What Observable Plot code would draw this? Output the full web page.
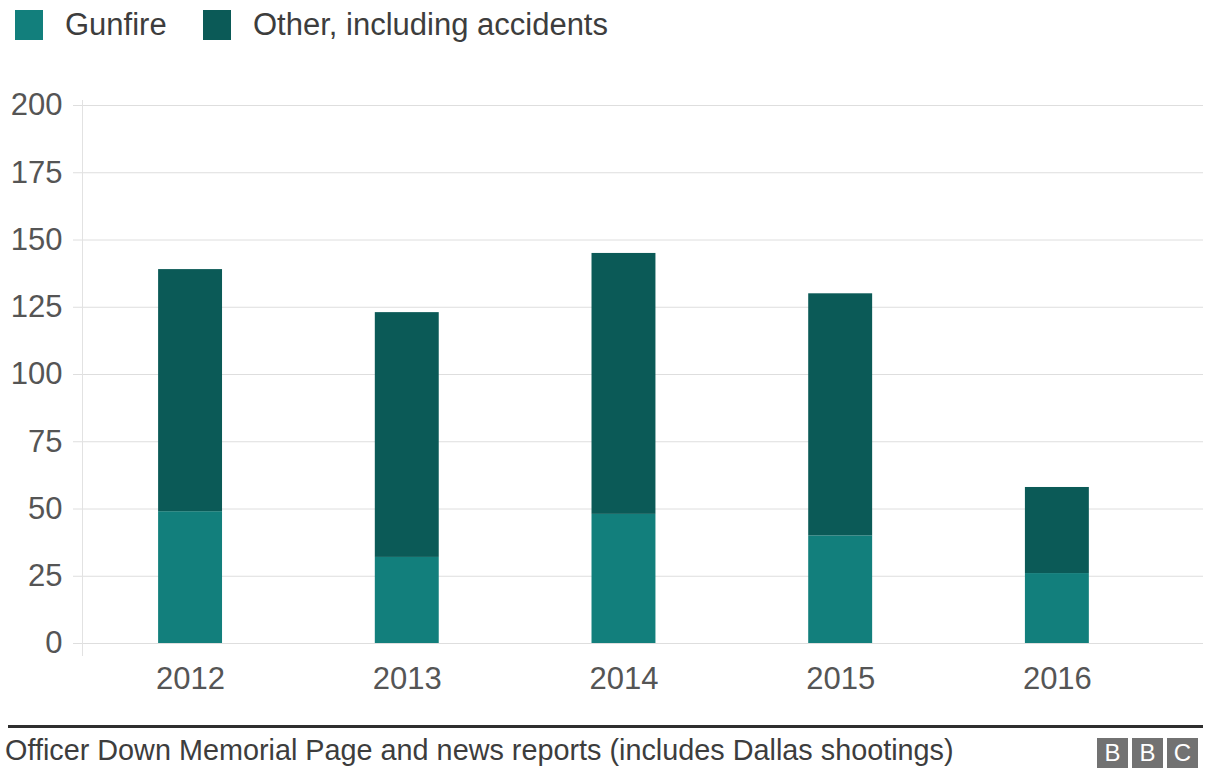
<!DOCTYPE html>
<html>
<head>
<meta charset="utf-8">
<script src="https://cdn.jsdelivr.net/npm/d3@7"></script>
<script src="https://cdn.jsdelivr.net/npm/@observablehq/plot@0.6"></script>
<style>
  html, body { margin: 0; padding: 0; background: #fff; }
  body { width: 1214px; height: 769px; overflow: hidden; font-family: "Liberation Sans", Arial, sans-serif; position: relative; }
  #legend { position: absolute; left: 0; top: 0; width: 1214px; height: 60px; }
  .item { position: absolute; top: 10px; display: flex; align-items: center; height: 30px; }
  .sw { width: 28px; height: 30px; display: inline-block; }
  .lab { font-size: 31px; color: #3d3d3d; margin-left: 22px; white-space: nowrap; line-height: 30px; }
  #chart { position: absolute; left: 0; top: 60px; }
  #rule { position: absolute; left: 8px; top: 725px; width: 1195px; height: 3px; background: #2e2e2e; }
  #source { position: absolute; left: 5px; top: 734px; font-size: 28.8px; color: #3d3d3d; white-space: nowrap; line-height: 32px; }
  #logo { position: absolute; left: 1097px; top: 738px; display: flex; gap: 4px; }
  #logo span { width: 31px; height: 30px; background: #727272; color: #fff; font-size: 24px; display: flex; align-items: center; justify-content: center; font-family: "Liberation Sans", Arial, sans-serif; }
</style>
</head>
<body>
<div id="legend"></div>
<div id="chart"></div>
<div id="rule"></div>
<div id="source">Officer Down Memorial Page and news reports (includes Dallas shootings)</div>
<div id="logo"><span>B</span><span>B</span><span>C</span></div>
<script>
const years = ["2012", "2013", "2014", "2015", "2016"];
const gunfire = [49, 32, 48, 40, 26];
const other = [90, 91, 97, 90, 32];
const seriesNames = ["Gunfire", "Other, including accidents"];
const seriesColors = ["#127f7c", "#0b5a57"];
const yTicks = [0, 25, 50, 75, 100, 125, 150, 175, 200];

const table = [];
years.forEach((yr, i) => {
  table.push({year: yr, type: seriesNames[0], value: gunfire[i]});
  table.push({year: yr, type: seriesNames[1], value: other[i]});
});

// legend
const legend = document.getElementById("legend");
const legendX = [15, 203];
seriesNames.forEach((name, i) => {
  const it = document.createElement("div");
  it.className = "item";
  it.style.left = legendX[i] + "px";
  it.innerHTML = `<span class="sw" style="background:${seriesColors[i]}"></span><span class="lab">${name}</span>`;
  legend.appendChild(it);
});

const chart = Plot.plot({
  width: 1214,
  height: 655,
  marginLeft: 82,
  marginRight: 11,
  marginTop: 45,
  marginBottom: 72,
  style: {fontFamily: "'Liberation Sans', Arial, sans-serif", fontSize: "31px", background: "white"},
  x: {domain: years, paddingInner: 0.705, paddingOuter: 0.439, align: 0.4, round: false, label: null},
  y: {domain: [0, 200], label: null},
  color: {domain: seriesNames, range: seriesColors},
  marks: [
    Plot.gridY(yTicks, {stroke: "#dedede", strokeOpacity: 1}),
    Plot.frame({anchor: "left", stroke: "#e2e2e2", insetBottom: -12, insetTop: -5}),
    Plot.barY(table, {x: "year", y: "value", fill: "type"}),
    Plot.axisY(yTicks, {tickSize: 9, tickPadding: 11, stroke: "#dedede", fill: "#555", fontSize: 31, label: null}),
    Plot.axisX({tickSize: 0, tickPadding: 23, fill: "#555", fontSize: 31, label: null})
  ]
});
document.getElementById("chart").appendChild(chart);
</script>
</body>
</html>
